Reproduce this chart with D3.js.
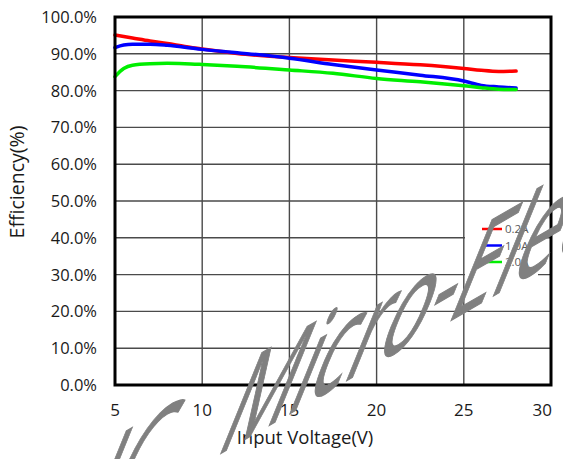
<!DOCTYPE html>
<html>
<head>
<meta charset="utf-8">
<script src="https://cdn.jsdelivr.net/npm/d3@7"></script>
<style>
  html, body { margin: 0; padding: 0; background: #fff; }
  svg { display: block; }
  text { font-family: "Open Sans", "Noto Sans", sans-serif; }
</style>
</head>
<body>
<svg id="chart" width="563" height="459"></svg>
<script>
// Input voltage sample points (V)
const voltage = [5, 5.5, 6, 7, 8, 9, 10, 12, 15, 17.5, 20, 22.5, 25, 26, 27, 28];

// Efficiency (%) for each load current
const eff02A = [95.1, 94.7, 94.3, 93.5, 92.8, 92.0, 91.3, 90.1, 89.0, 88.3, 87.7, 87.0, 86.0, 85.5, 85.2, 85.3];
const eff10A = [91.7, 92.4, 92.6, 92.6, 92.3, 91.8, 91.2, 90.3, 88.8, 87.1, 85.6, 84.2, 82.6, 81.4, 81.0, 80.7];
const eff20A = [83.8, 86.0, 86.9, 87.3, 87.4, 87.3, 87.1, 86.6, 85.6, 84.7, 83.3, 82.4, 81.3, 80.8, 80.4, 80.3];

const seriesNames = ["0.2A", "1.0A", "2.0A"];
const seriesColors = ["#ff0000", "#0000ff", "#00ee00"];

const xTicks = [5, 10, 15, 20, 25, 30];
const yTicks = [0, 10, 20, 30, 40, 50, 60, 70, 80, 90, 100];

const series = [eff02A, eff10A, eff20A].map((vals, i) => ({
  name: seriesNames[i],
  color: seriesColors[i],
  points: voltage.map((v, j) => ({ v, e: vals[j] }))
}));

const svg = d3.select("#chart");
const plot = { left: 115, top: 17, right: 551, bottom: 385 };

const x = d3.scaleLinear().domain([5, 30]).range([plot.left, plot.right]);
const y = d3.scaleLinear().domain([0, 100]).range([plot.bottom, plot.top]);

// Grid
const grid = svg.append("g").attr("stroke", "#4a4a4a").attr("stroke-width", 1.4);
grid.selectAll("line.h").data(yTicks).join("line")
  .attr("x1", plot.left).attr("x2", plot.right)
  .attr("y1", d => y(d)).attr("y2", d => y(d));
grid.selectAll("line.v").data(xTicks).join("line")
  .attr("y1", plot.top).attr("y2", plot.bottom)
  .attr("x1", d => x(d)).attr("x2", d => x(d));

// Legend backdrop covers the grid
svg.append("rect")
  .attr("x", 465).attr("y", 212).attr("width", 73).attr("height", 68)
  .attr("fill", "#fff");

// Series lines
const line = d3.line()
  .x(d => x(d.v))
  .y(d => y(d.e))
  .curve(d3.curveMonotoneX);

svg.append("g").selectAll("path").data(series).join("path")
  .attr("d", d => line(d.points))
  .attr("fill", "none")
  .attr("stroke", d => d.color)
  .attr("stroke-width", 3.5)
  .attr("stroke-linejoin", "round")
  .attr("stroke-linecap", "round");

// Plot frame
svg.append("rect")
  .attr("x", plot.left).attr("y", plot.top)
  .attr("width", plot.right - plot.left).attr("height", plot.bottom - plot.top)
  .attr("fill", "none").attr("stroke", "#000").attr("stroke-width", 3);

// Y axis labels
const fmtY = d => d3.format(".1f")(d) + "%";
svg.append("g").selectAll("text").data(yTicks).join("text")
  .attr("x", 97).attr("y", d => y(d))
  .attr("dy", "0.36em")
  .attr("text-anchor", "end")
  .attr("font-size", 16.5)
  .attr("fill", "#1a1a1a")
  .text(fmtY);

// X axis labels
svg.append("g").selectAll("text").data(xTicks).join("text")
  .attr("x", d => x(d)).attr("y", 416)
  .attr("text-anchor", (d, i) => i === xTicks.length - 1 ? "end" : "middle")
  .attr("dx", (d, i) => i === xTicks.length - 1 ? 1 : 0)
  .attr("font-size", 17)
  .attr("fill", "#1a1a1a")
  .text(d => d);

// Axis titles
svg.append("text")
  .attr("x", 305).attr("y", 444)
  .attr("text-anchor", "middle")
  .attr("font-size", 18.5)
  .attr("fill", "#1a1a1a")
  .text("Input Voltage(V)");

svg.append("text")
  .attr("transform", "translate(24,182) rotate(-90)")
  .attr("text-anchor", "middle")
  .attr("font-size", 19.5)
  .attr("fill", "#1a1a1a")
  .text("Efficiency(%)");

// Legend
const legend = svg.append("g").selectAll("g").data(series).join("g")
  .attr("transform", (d, i) => `translate(482,${229 + i * 16.5})`);
legend.append("line")
  .attr("x1", 0).attr("x2", 20)
  .attr("stroke", d => d.color).attr("stroke-width", 2.5);
legend.append("text")
  .attr("x", 23).attr("dy", "0.36em")
  .attr("font-size", 11.5)
  .attr("fill", "#595959")
  .text(d => d.name);

// Watermark: sheared gray lettering rising across the plot
const wm = svg.append("g")
  .attr("transform", "translate(213,458) skewY(-30) skewX(-28) scale(0.72,1)")
  .attr("fill", "#808080")
  .attr("stroke", "#808080")
  .attr("stroke-width", 1.2)
  .attr("font-family", "'Liberation Sans', Arial, sans-serif")
  .attr("font-size", 108);
wm.append("text").attr("x", -90).attr("text-anchor", "end").text("IC");
wm.append("text").attr("x", 0).text("Micro-Electronics");
</script>
</body>
</html>
